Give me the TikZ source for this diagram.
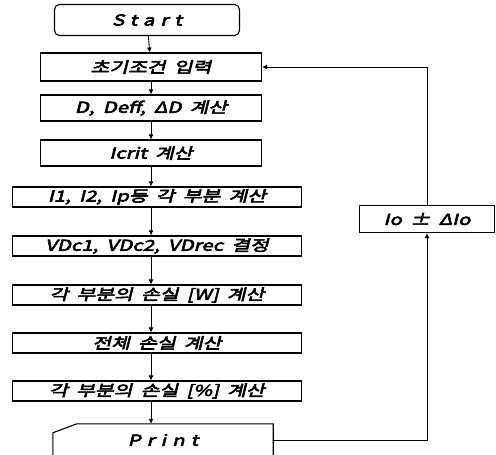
\documentclass[tikz,border=0pt]{standalone}
\usepackage{fontspec}
\usetikzlibrary{arrows.meta}
\newfontfamily\krfont[FakeSlant=0.25,FakeStretch=1.36,FakeBold=4,WordSpace=1.8]{Noto Sans CJK KR}
\newcommand{\spaced}[1]{{\addfontfeature{LetterSpace=40}#1}}

\begin{document}
\begin{tikzpicture}[x = 1pt, y = -1pt,
  every node/.style = {font = \krfont\fontsize{15}{17}\selectfont, inner sep = 0pt},
  box/.style = {draw, line width = 1.1pt},
  startbox/.style = {box, rounded corners = 5pt, minimum width = 185pt, minimum height = 31pt},
  narrowbox/.style = {box, minimum width = 221pt, minimum height = 26pt},
  widebox/.style = {box, minimum width = 289pt, minimum height = 20pt},
  flow/.style = {line width = 0.9pt, -{Latex[length = 5pt, width = 5pt]}}]

\useasboundingbox (0,0) rectangle (496,455);
\clip (0,0) rectangle (496,455);

\node[startbox] (v1) at (147,20) {\spaced{Start}};
\node[narrowbox, minimum height = 28pt] (v2) at (151,67) {초기조건 입력};
\node[narrowbox] (v3) at (151,108) {D, Deff, ΔD 계산};
\node[narrowbox] (v4) at (151,153) {Icrit 계산};

\node[widebox] (v5) at (157,197) {I1, I2, Ip등 각 부분 계산};
\node[widebox] (v6) at (157,246) {VDc1, VDc2, VDrec 결정};
\node[widebox] (v7) at (157,295) {각 부분의 손실 [W] 계산};
\node[widebox] (v8) at (157,343) {전체 손실 계산};
\node[widebox] (v9) at (157,391) {각 부분의 손실 [\%] 계산};

\node[minimum width = 220pt, minimum height = 32pt] (v10) at (163,440) {\spaced{Print}};
\draw [line width = 1.1pt] (v10.south west) -- ([yshift=-9pt]v10.north west)
  -- ([xshift=24pt]v10.north west) -- (v10.north east) -- (v10.south east);

\node[box, minimum width = 135pt, minimum height = 27pt] (v11) at (427,219) {Io ± ΔIo};

\draw [flow] (v1) -- (v2);
\draw [flow] (v2) -- (v3);
\draw [flow] (v3) -- (v4);
\draw [flow] (v4.south) -- (v5.north -| v4.south);
\draw [flow] (v5.south -| v4.south) -- (v6.north -| v4.south);
\draw [flow] (v6.south -| v4.south) -- (v7.north -| v4.south);
\draw [flow] (v7.south -| v4.south) -- (v8.north -| v4.south);
\draw [flow] (v8.south -| v4.south) -- (v9.north -| v4.south);
\draw [flow] (v9.south -| v4.south) -- (v10.north -| v4.south);
\draw [flow] (v10.east) -| (v11.south);
\draw [flow] (v11.north) |- (v2.east);
\end{tikzpicture}
\end{document}
